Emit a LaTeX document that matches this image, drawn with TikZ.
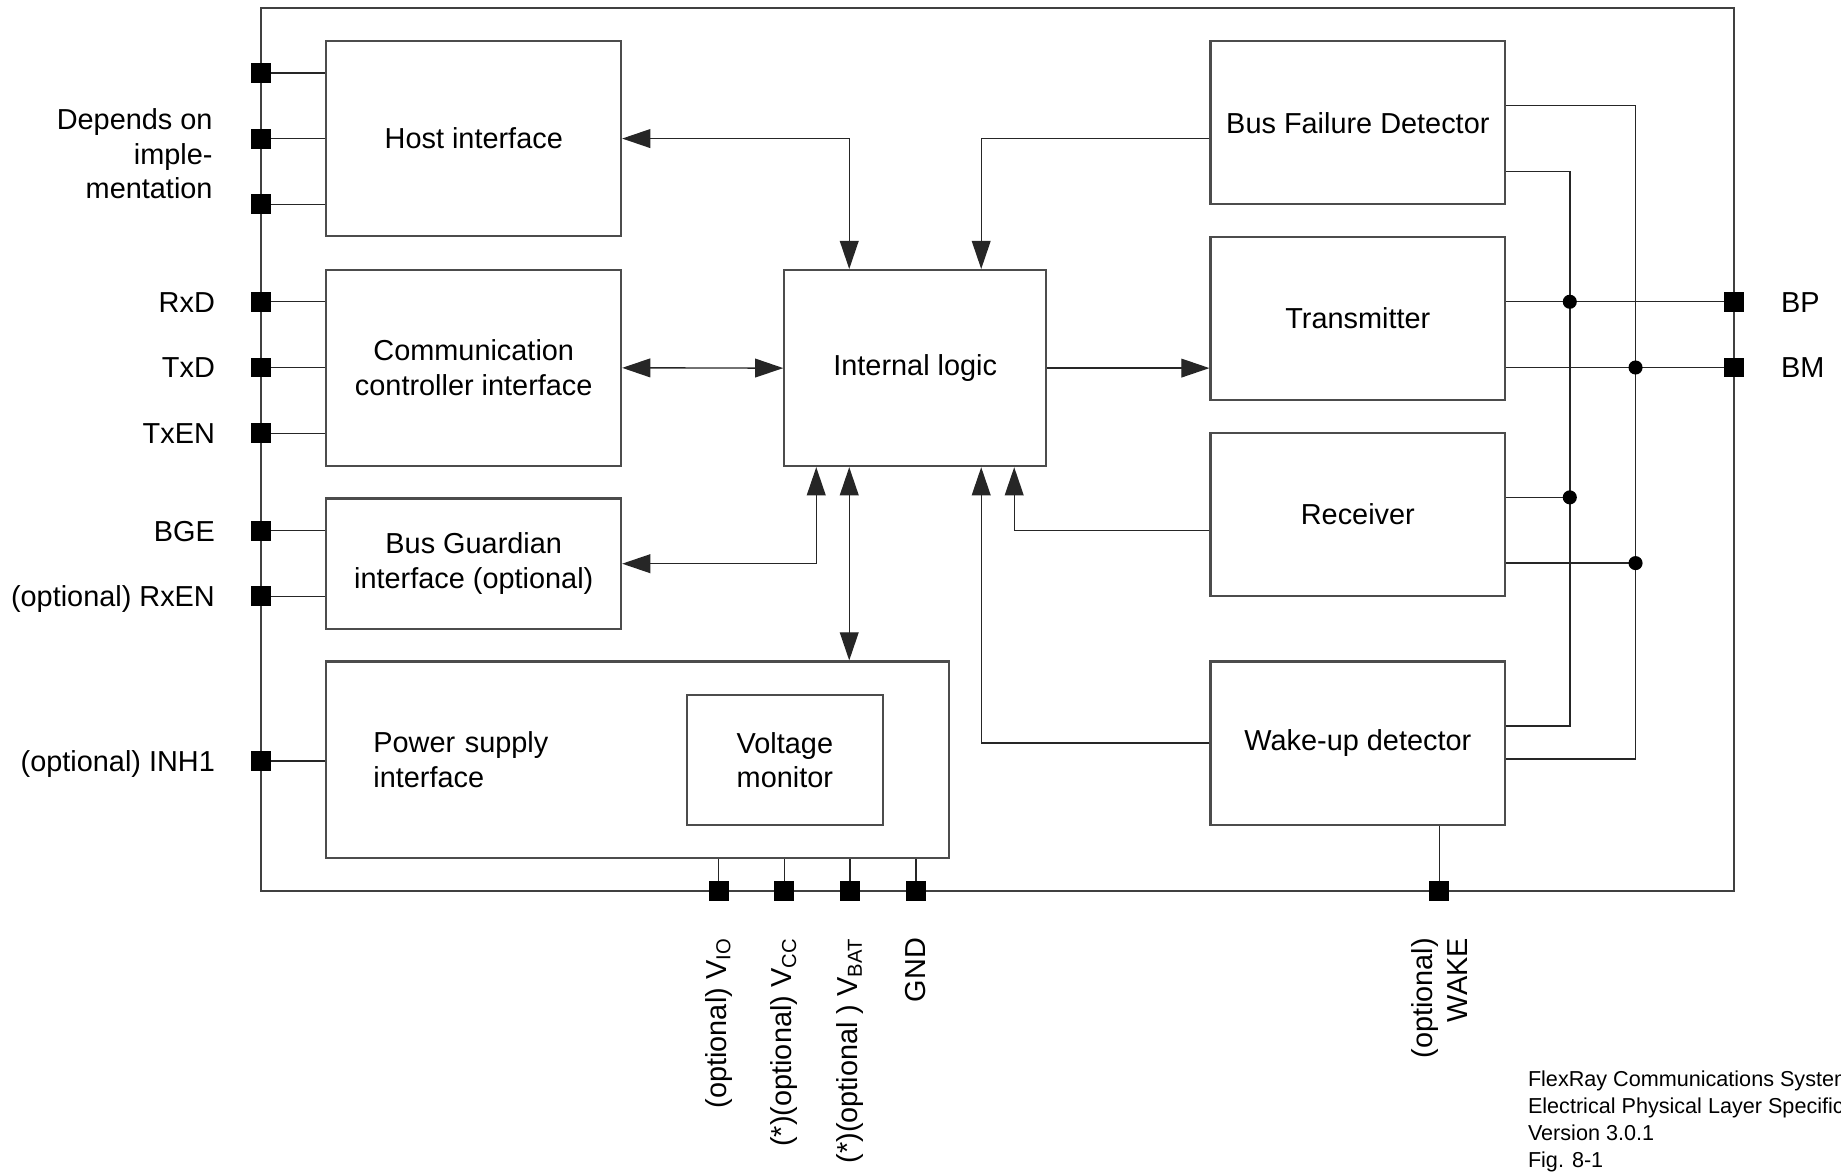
\documentclass[tikz,border=0pt]{standalone}
\usepackage{fontspec}
\setmainfont{Liberation Sans}
\usetikzlibrary{arrows.meta,positioning,calc}

\begin{document}
\begin{tikzpicture}[
  x=0.5pt, y=-0.5pt,
  font=\fontsize{12.3}{14.8}\selectfont,
  blk/.style ={rectangle,draw=black!70,line width=0.9pt,align=center,inner sep=0pt},
  sidebox/.style={blk,minimum width=125.5pt,minimum height=69.5pt},
  chipbox/.style={rectangle,draw=black!75,line width=0.8pt,
                  minimum width=627.5pt,minimum height=376pt},
  pad/.style={rectangle,fill=black,minimum size=8.5pt,inner sep=0pt},
  dot/.style={circle,fill=black,minimum size=6pt,inner sep=0pt},
  wire/.style={draw=black!85,line width=0.6pt},
  arr/.style={wire,-{Triangle[length=12pt,width=8pt]}},
  biarr/.style={wire,{Triangle[length=12pt,width=8pt]}-{Triangle[length=12pt,width=8pt]}},
  padlab/.style={text height=8.8pt,text depth=0pt},
  vlab/.style={rotate=90,anchor=east,align=right},
]
\useasboundingbox (0,0) rectangle (1568,998);

%% --- chip outline ---------------------------------------------------------
\node[chipbox] (chip) at (849.5,383) {};

%% --- left column ----------------------------------------------------------
\node[blk,minimum width=125.5pt,minimum height=83pt] (host) at (403.5,118) {Host interface};
\node[blk,minimum width=125.5pt,minimum height=83.5pt,below=13.5pt of host] (cci)
     {Communication\\controller interface};
\node[blk,minimum width=125.5pt,minimum height=55.5pt,below=13pt of cci] (bgi)
     {Bus Guardian\\interface (optional)};
\node[blk,minimum width=265pt,minimum height=83.5pt,text width=225pt,align=left,inner xsep=20pt,
      below=13pt of bgi.south west,anchor=north west] (psi) {Power supply\\interface};
\node[blk,minimum width=83.5pt,minimum height=55.5pt] (vmon) at (668.5,647.5) {Voltage\\monitor};

%% --- centre ---------------------------------------------------------------
\node[blk,minimum width=111.5pt,minimum height=83.5pt] (intlog) at (779.5,313.5) {Internal logic};

%% --- right column ---------------------------------------------------------
\node[sidebox] (bfd) at (1156.5,104.5) {Bus Failure Detector};
\node[sidebox,below=13pt of bfd] (tx)   {Transmitter};
\node[sidebox,below=13pt of tx]  (rx)   {Receiver};
\node[sidebox,below=27pt of rx]  (wake) {Wake-up detector};

%% --- pins -----------------------------------------------------------------
\foreach \y/\n in {62/h1,118/h2,174/h3,257/rxd,313/txd,369/txen,452/bge,508/rxen,648/inh}
  \node[pad] (\n) at (222,\y) {};
\foreach \x/\n in {612/vio,668/vcc,724/vbat,780/gnd,1226/wk}
  \node[pad] (\n) at (\x,759) {};
\node[pad] (bp) at (1477,257) {};
\node[pad] (bm) at (1477,313) {};

\foreach \n in {h1,h2,h3} \draw[wire] (\n) -- (\n -| host.west);
\foreach \n in {rxd,txd,txen} \draw[wire] (\n) -- (\n -| cci.west);
\foreach \n in {bge,rxen} \draw[wire] (\n) -- (\n -| bgi.west);
\draw[wire] (inh) -- (inh -| psi.west);
\foreach \n in {vio,vcc,vbat,gnd} \draw[wire] (\n) -- (\n |- psi.south);
\draw[wire] (wk) -- (wk |- wake.south);

%% pin labels
\node[left=12.5pt of h2,yshift=-6.5pt,align=right] (depl) {Depends on\\imple-\\mentation};
\foreach \n/\t in {rxd/RxD,txd/TxD,txen/TxEN,bge/BGE,rxen/{(optional) RxEN},inh/{(optional) INH1}}
  \node[padlab,left=11.5pt of \n] (\n-l) {\t};
\node[padlab,right=12pt of bp] (bp-l) {BP};
\node[padlab,right=12pt of bm] (bm-l) {BM};
\node[vlab] (vio-l)  at ([yshift=-12pt]vio.south)  {(optional) V\textsubscript{IO}};
\node[vlab] (vcc-l)  at ([yshift=-12pt]vcc.south)  {(*)(optional) V\textsubscript{CC}};
\node[vlab] (vbat-l) at ([yshift=-12pt]vbat.south) {(*)(optional ) V\textsubscript{BAT}};
\node[vlab] (gnd-l)  at ([yshift=-12pt]gnd.south)  {GND};
\node[vlab] (wk-l)   at ([yshift=-12pt]wk.south)   {(optional)\\WAKE};

%% --- internal logic links -------------------------------------------------
\coordinate (ilN1) at ($(intlog.north west)!0.25!(intlog.north east)$);
\coordinate (ilN2) at ($(intlog.north west)!0.75!(intlog.north east)$);
\coordinate (ilS1) at ($(intlog.south west)!0.125!(intlog.south east)$);
\coordinate (ilS2) at ($(intlog.south west)!0.25!(intlog.south east)$);
\coordinate (ilS3) at ($(intlog.south west)!0.75!(intlog.south east)$);
\coordinate (ilS4) at ($(intlog.south west)!0.875!(intlog.south east)$);

\draw[biarr] (host.east) -| (ilN1);
\draw[biarr] (cci.east) -- (intlog.west);
\draw[biarr] (bgi.east) -| (ilS1);
\draw[biarr] (ilS2) -- (ilS2 |- psi.north);
\draw[arr] ([yshift=-6.75pt]bfd.west) -| (ilN2);
\draw[arr] (intlog.east) -- (intlog.east -| tx.west);
\draw[arr] ([yshift=-6.75pt]rx.west) -| (ilS4);
\draw[arr] (wake.west) -| (ilS3);

%% --- bus lines ------------------------------------------------------------
\coordinate (busP) at (1337,0);
\coordinate (busM) at (1393,0);
\coordinate (bfdM)  at ([yshift=7.25pt]bfd.east);
\coordinate (bfdP)  at ([yshift=-20.75pt]bfd.east);
\coordinate (rxP)   at ([yshift=7.25pt]rx.east);
\coordinate (rxM)   at ([yshift=-20.75pt]rx.east);
\coordinate (wakeP) at ([yshift=7.25pt]wake.east);
\coordinate (wakeM) at ([yshift=-6.75pt]wake.east);

\draw[wire] (bp -| tx.east) -- (bp);
\draw[wire] (bm -| tx.east) -- (bm);
\draw[wire] (rxP) -- (rxP -| busP);
\draw[wire] (rxM) -- (rxM -| busM);
\draw[wire] (bfdP) -| (busP |- wakeP) -- (wakeP);
\draw[wire] (bfdM) -| (busM |- wakeM) -- (wakeM);

\node[dot] (j1) at (bp -| busP) {};
\node[dot] (j2) at (bm -| busM) {};
\node[dot] (j3) at (rxP -| busP) {};
\node[dot] (j4) at (rxM -| busM) {};

%% --- source note ----------------------------------------------------------
\node[anchor=north west,align=left,inner sep=0pt,font=\fontsize{9.2}{11.5}\selectfont] (note)
     at (1301,912) {FlexRay Communications System\\Electrical Physical Layer Specification\\Version 3.0.1\\Fig. 8-1};
\end{tikzpicture}
\end{document}
